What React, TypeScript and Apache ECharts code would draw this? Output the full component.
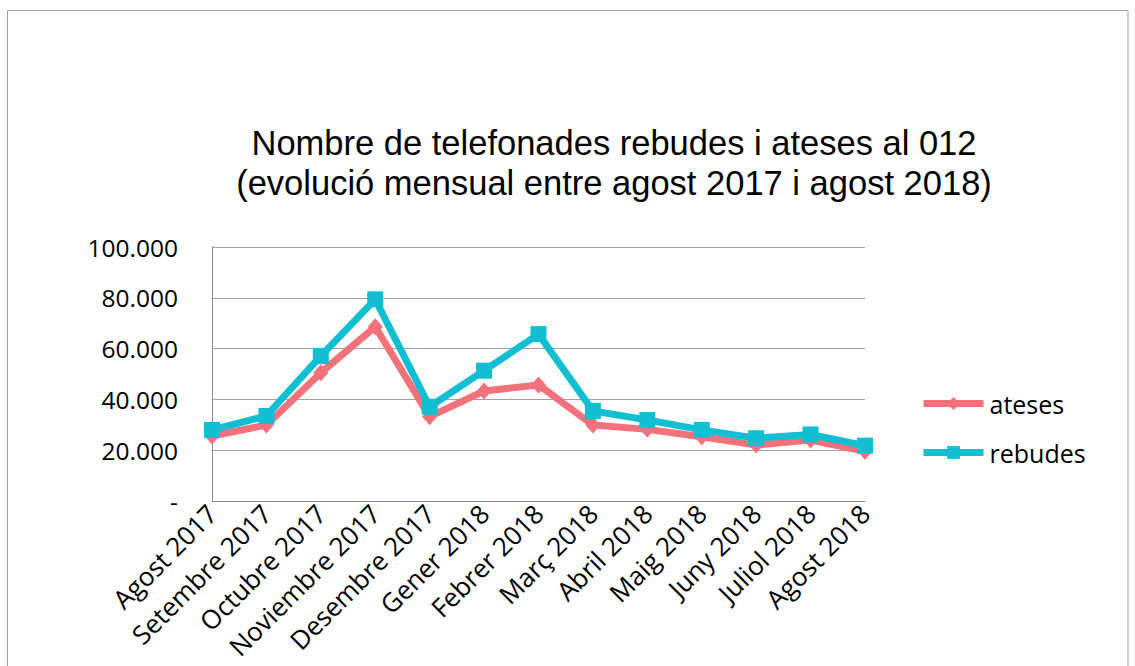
import React, { useEffect, useRef } from "react";
import * as echarts from "echarts";

const categories = [
  "Agost 2017", "Setembre 2017", "Octubre 2017", "Noviembre 2017", "Desembre 2017",
  "Gener 2018", "Febrer 2018", "Març 2018", "Abril 2018", "Maig 2018",
  "Juny 2018", "Juliol 2018", "Agost 2018",
];
const ateses = [25600, 29900, 50500, 68600, 33200, 43300, 45700, 29900, 28200, 25300, 22000, 24000, 19600];
const rebudes = [28000, 33500, 57100, 79400, 37100, 51300, 65700, 35500, 31900, 28000, 24700, 26200, 21800];
const titleLines = [
  "Nombre de telefonades rebudes i ateses al 012",
  "(evolució mensual entre agost 2017 i agost 2018)",
];

const fmt = (v: number) =>
  v === 0 ? "-" : String(v).replace(/\B(?=(\d{3})+(?!\d))/g, ".");

export default function App() {
  const ref = useRef<HTMLDivElement>(null);
  useEffect(() => {
    if (!ref.current) return;
    const chart = echarts.init(ref.current, undefined, { renderer: "svg" });
    chart.setOption({
      animation: false,
      backgroundColor: "#ffffff",
      title: {
        text: titleLines.join("\n"),
        left: 614,
        textAlign: "center",
        top: 123,
        padding: 0,
        textStyle: {
          fontFamily: "Liberation Sans",
          fontSize: 34.5,
          fontWeight: "normal",
          color: "#000",
          lineHeight: 40,
        },
      },
      graphic: [
        {
          type: "rect",
          shape: { x: 7.5, y: 10.5, width: 1120.5, height: 700 },
          style: { fill: "none", stroke: "#a0a0a0", lineWidth: 1 },
          silent: true,
        },
      ],
      legend: {
        orient: "vertical",
        left: 920,
        top: 391,
        padding: 0,
        itemWidth: 60,
        itemHeight: 16,
        itemGap: 24,
        lineStyle: { width: 7 },
        textStyle: { fontFamily: "Open Sans", fontSize: 25, color: "#000", padding: [0, 0, 0, 1] },
        data: ["ateses", "rebudes"],
      },
      grid: { left: 212, right: 270, top: 247, bottom: 165, containLabel: false },
      xAxis: {
        type: "category",
        data: categories,
        boundaryGap: false,
        axisLine: { lineStyle: { color: "#8c8c8c", width: 1 } },
        axisTick: { show: false },
        axisLabel: {
          rotate: 45,
          margin: 8,
          interval: 0,
          fontFamily: "Open Sans",
          fontSize: 26,
          color: "#000",
        },
      },
      yAxis: {
        type: "value",
        min: 0,
        max: 100000,
        interval: 20000,
        axisLine: { show: true, lineStyle: { color: "#8c8c8c", width: 1 } },
        axisTick: { show: false },
        splitLine: { lineStyle: { color: "#a0a0a0", width: 1 } },
        axisLabel: {
          formatter: fmt,
          margin: 34,
          fontFamily: "Open Sans",
          fontSize: 24.5,
          color: "#000",
        },
      },
      series: [
        {
          name: "ateses",
          type: "line",
          data: ateses,
          symbol: "diamond",
          symbolSize: [15, 17],
          lineStyle: { color: "#f2727c", width: 7 },
          itemStyle: { color: "#f2727c" },
          z: 2,
        },
        {
          name: "rebudes",
          type: "line",
          data: rebudes,
          symbol: "rect",
          symbolSize: 16,
          lineStyle: { color: "#12bed1", width: 7 },
          itemStyle: { color: "#12bed1" },
          z: 3,
        },
      ],
    });
    return () => chart.dispose();
  }, []);
  return (
    <div
      ref={ref}
      style={{ position: "absolute", left: 0, top: 0, width: 1135, height: 666 }}
    />
  );
}
